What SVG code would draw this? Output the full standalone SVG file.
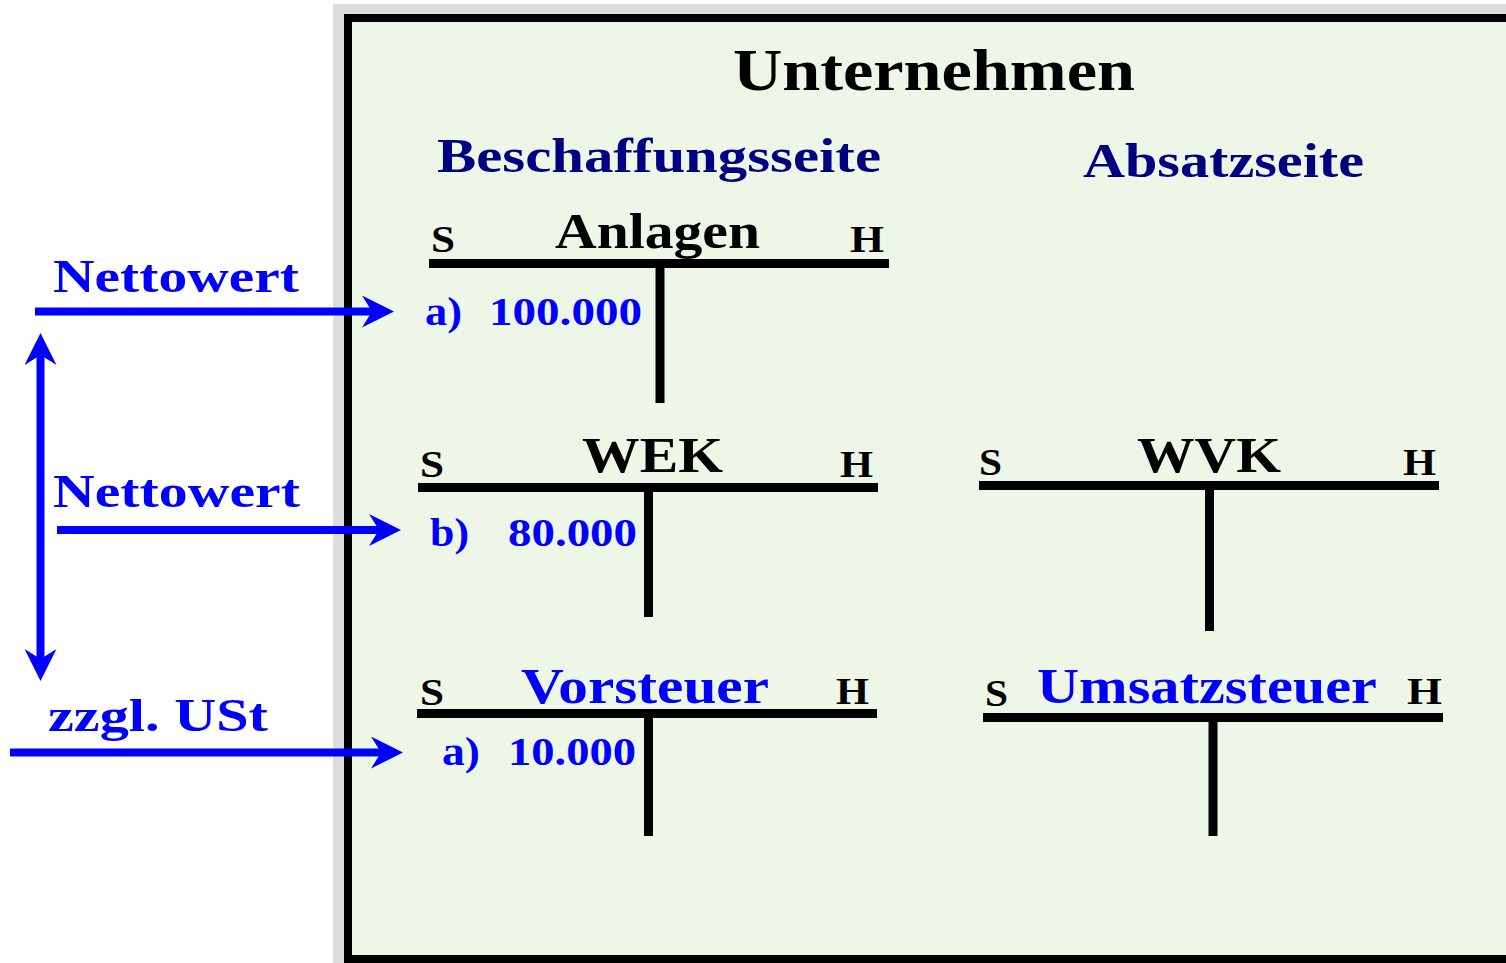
<svg xmlns="http://www.w3.org/2000/svg" width="1506" height="963" viewBox="0 0 1506 963">
<style>
text{font-family:"Liberation Serif","Times New Roman",serif;font-weight:bold}
.k{fill:#000}
.b{fill:#0000ff}
.n{fill:#000080}
.sh{font-size:38px}
.t{font-size:50px}
.amt{font-size:41px}
.lbl{font-size:47px}
.bar{stroke:#000;stroke-width:9;fill:none}
.arr{stroke:#0000ff;stroke-width:8;fill:none;marker-end:url(#ah)}
</style>
<defs>
<marker id="ah" markerUnits="userSpaceOnUse" markerWidth="32" markerHeight="32" viewBox="0 0 32 32" refX="10" refY="16" orient="auto-start-reverse">
<path d="M0,0 L32,16 L0,32 L10,16 z" fill="#0000ff"/>
</marker>
</defs>
<rect x="333" y="4" width="1200" height="990" fill="#dddddd"/>
<rect x="348" y="18" width="1200" height="941" fill="#eef7e7" stroke="#000" stroke-width="8"/>
<g id="title">
<text class="k" x="733" y="90" font-size="59" textLength="402" lengthAdjust="spacingAndGlyphs">Unternehmen</text>
<text class="n" x="437" y="172" font-size="48" textLength="444" lengthAdjust="spacingAndGlyphs">Beschaffungsseite</text>
<text class="n" x="1083" y="177" font-size="48" textLength="281" lengthAdjust="spacingAndGlyphs">Absatzseite</text>
</g>
<g id="anlagen">
<line class="bar" x1="429" y1="263.5" x2="889" y2="263.5"/>
<line class="bar" x1="660" y1="263" x2="660" y2="403"/>
<text class="k sh" x="431" y="252" textLength="24" lengthAdjust="spacingAndGlyphs">S</text>
<text class="k sh" x="850" y="252" textLength="34" lengthAdjust="spacingAndGlyphs">H</text>
<text class="k t" x="555" y="248" textLength="205" lengthAdjust="spacingAndGlyphs">Anlagen</text>
<text class="b amt" x="425" y="325" textLength="37" lengthAdjust="spacingAndGlyphs">a)</text>
<text class="b amt" x="489" y="325" textLength="153" lengthAdjust="spacingAndGlyphs">100.000</text>
</g>
<g id="wek">
<line class="bar" x1="418" y1="487.5" x2="878" y2="487.5"/>
<line class="bar" x1="648.5" y1="487" x2="648.5" y2="617"/>
<text class="k sh" x="420" y="477" textLength="24" lengthAdjust="spacingAndGlyphs">S</text>
<text class="k sh" x="840" y="477" textLength="33" lengthAdjust="spacingAndGlyphs">H</text>
<text class="k t" x="582" y="472" textLength="141" lengthAdjust="spacingAndGlyphs">WEK</text>
<text class="b amt" x="430" y="546" textLength="39" lengthAdjust="spacingAndGlyphs">b)</text>
<text class="b amt" x="508" y="546" textLength="129" lengthAdjust="spacingAndGlyphs">80.000</text>
</g>
<g id="wvk">
<line class="bar" x1="979" y1="485.5" x2="1439" y2="485.5"/>
<line class="bar" x1="1209.5" y1="485" x2="1209.5" y2="631"/>
<text class="k sh" x="979" y="475" textLength="23" lengthAdjust="spacingAndGlyphs">S</text>
<text class="k sh" x="1403" y="475" textLength="33" lengthAdjust="spacingAndGlyphs">H</text>
<text class="k t" x="1137" y="472" textLength="144" lengthAdjust="spacingAndGlyphs">WVK</text>
</g>
<g id="vorsteuer">
<line class="bar" x1="417" y1="713.5" x2="877" y2="713.5"/>
<line class="bar" x1="648.5" y1="713" x2="648.5" y2="836"/>
<text class="k sh" x="420" y="705" textLength="24" lengthAdjust="spacingAndGlyphs">S</text>
<text class="k sh" x="836" y="704" textLength="33" lengthAdjust="spacingAndGlyphs">H</text>
<text class="b t" x="521" y="703" textLength="248" lengthAdjust="spacingAndGlyphs">Vorsteuer</text>
<text class="b amt" x="442" y="765" textLength="38" lengthAdjust="spacingAndGlyphs">a)</text>
<text class="b amt" x="508" y="765" textLength="128" lengthAdjust="spacingAndGlyphs">10.000</text>
</g>
<g id="umsatzsteuer">
<line class="bar" x1="983" y1="717.5" x2="1443" y2="717.5"/>
<line class="bar" x1="1213" y1="717" x2="1213" y2="836"/>
<text class="k sh" x="985" y="706" textLength="23" lengthAdjust="spacingAndGlyphs">S</text>
<text class="k sh" x="1407" y="704" textLength="35" lengthAdjust="spacingAndGlyphs">H</text>
<text class="b t" x="1037" y="703" textLength="340" lengthAdjust="spacingAndGlyphs">Umsatzsteuer</text>
</g>
<g id="labels">
<text class="b lbl" x="53" y="292" textLength="246" lengthAdjust="spacingAndGlyphs">Nettowert</text>
<text class="b lbl" x="53" y="507" textLength="247" lengthAdjust="spacingAndGlyphs">Nettowert</text>
<text class="b lbl" x="48" y="731" textLength="220" lengthAdjust="spacingAndGlyphs">zzgl. USt</text>
</g>
<g id="connectors">
<line class="arr" x1="35" y1="311.5" x2="372" y2="311.5"/>
<line class="arr" x1="57" y1="530" x2="379" y2="530"/>
<line class="arr" x1="10" y1="752.5" x2="381" y2="752.5"/>
<line class="arr" x1="40.5" y1="355" x2="40.5" y2="659" marker-start="url(#ah)"/>
</g>
</svg>
